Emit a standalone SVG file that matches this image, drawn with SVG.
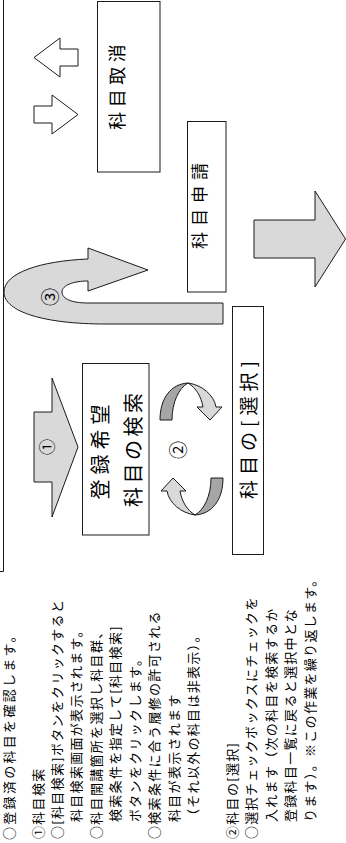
<svg xmlns="http://www.w3.org/2000/svg" xmlns:xlink="http://www.w3.org/1999/xlink" width="346" height="843" viewBox="0 0 346 843">
<style>
.t{font-family:"Noto Sans CJK JP","Noto Sans CJK SC",sans-serif;font-size:13px;letter-spacing:1.3px;fill:#000}
.lb{font-family:"Noto Sans CJK JP","Noto Sans CJK SC",sans-serif;fill:#000;text-anchor:middle}
.box{fill:#fff;stroke:#1a1a1a;stroke-width:1}
.arr{fill:#d9d9d9;stroke:#1a1a1a;stroke-width:1;stroke-linejoin:miter}
.warr{fill:#fff;stroke:#1a1a1a;stroke-width:1}
.dk{fill:#a6a6a6;stroke:#1a1a1a;stroke-width:1}
.ln{fill:none;stroke:#1a1a1a;stroke-width:1}
</style>
<defs>
<g id="curl">
<path class="dk" d="M160,420 L172,420 C172,402 179,388 188,383 C171,384 160,398 160,420 Z"/>
<path class="arr" d="M188,383 C202,385 214,395 216,407 L222,407 L210,420 L197,407 L203,407 C201,396 196,388 188,383 Z"/>
</g>
</defs>
<rect width="346" height="843" fill="#fff"/>
<g id="frame"><path class="ln" d="M-1,571.5 H3.5 V-1"/></g>
<g id="connectors">
<path id="arrow-cancel-left" class="warr" d="M34,57.5 L60,38 L60,49 L78,49 L78,66 L60,66 L60,77 Z"/>
<path id="arrow-cancel-right" class="warr" d="M78,114.5 L52,95 L52,106 L34,106 L34,123 L52,123 L52,134 Z"/>
<path id="arrow-apply" class="arr" d="M254,220 H315 V191 L345.5,239 L315,287 V258 H254 Z"/>
<path id="arrow-1" class="arr" d="M34,412 H52 V378 L78,447 L52,517 V482 H34 Z"/>
<path id="arrow-3" class="arr" d="M223,303 L223,324 L105,324 C45,324 4,312 4,292 C4,273 40,261 88,259 L88,248 L148,270 L88,291 L88,281 C74,281 62,285 62,292 C62,299 72,303 88,303 Z"/>
<use id="arrow-2a" xlink:href="#curl" href="#curl"/>
<use id="arrow-2b" xlink:href="#curl" href="#curl" transform="rotate(180 191.5 449)"/>
<text class="lb" style="font-size:16px" transform="translate(53,447) rotate(-90)">①</text>
<text class="lb" style="font-size:18px" transform="translate(184.8,450) rotate(-90)">②</text>
<text class="lb" style="font-size:18px" transform="translate(57,297) rotate(-90)">③</text>
</g>
<g id="node-cancel">
<rect class="box" x="97.5" y="1.5" width="62.5" height="170.5"/>
<text class="lb" style="font-size:18px;letter-spacing:4.5px" transform="translate(123.5,87) rotate(-90) translate(2.2,0)">科目取消</text>
</g>
<g id="node-apply">
<rect class="box" x="187.5" y="121.5" width="38.5" height="170.5"/>
<text class="lb" style="font-size:17px;letter-spacing:6px" transform="translate(206,206) rotate(-90) translate(3,0)">科目申請</text>
</g>
<g id="node-select">
<rect class="box" x="232.5" y="306.5" width="31" height="248"/>
<text class="lb" style="font-size:19px;letter-spacing:5px" transform="translate(256,430) rotate(-90) translate(2.5,0)">科目の[選択]</text>
</g>
<g id="node-search">
<rect class="box" x="82.5" y="363.5" width="66.5" height="171.5"/>
<text class="lb" style="font-size:20px;letter-spacing:5px" transform="translate(107.6,452) rotate(-90) translate(2.5,0)">登録希望</text>
<text class="lb" style="font-size:20px;letter-spacing:3.5px" transform="translate(140.6,450) rotate(-90) translate(1.7,0)">科目の検索</text>
</g>
<g id="notes">
<text class="t" style="letter-spacing:2.3px" transform="translate(13.5,840) rotate(-90)">○登録済の科目を確認します。</text>
<text class="t" transform="translate(42.5,839) rotate(-90)">①科目検索</text>
<text class="t" transform="translate(61.9,839) rotate(-90)">○[科目検索]ボタンをクリックすると</text>
<text class="t" transform="translate(81.4,822) rotate(-90)">科目検索画面が表示されます。</text>
<text class="t" transform="translate(100.8,839) rotate(-90)">○科目開講箇所を選択し科目群、</text>
<text class="t" transform="translate(120.3,822) rotate(-90)">検索条件を指定して[科目検索]</text>
<text class="t" transform="translate(139.7,822) rotate(-90)">ボタンをクリックします。</text>
<text class="t" transform="translate(159.2,839) rotate(-90)">○検索条件に合う履修の許可される</text>
<text class="t" transform="translate(178.6,822) rotate(-90)">科目が表示されます</text>
<text class="t" transform="translate(198.1,822) rotate(-90)">（それ以外の科目は非表示）。</text>
<text class="t" transform="translate(237,839) rotate(-90)">②科目の[選択]</text>
<text class="t" transform="translate(256.4,839) rotate(-90)">○選択チェックボックスにチェックを</text>
<text class="t" transform="translate(275.8,822) rotate(-90)">入れます（次の科目を検索するか</text>
<text class="t" transform="translate(295.2,822) rotate(-90)">登録科目一覧に戻ると選択中とな</text>
<text class="t" transform="translate(314.6,822) rotate(-90)">ります）。※この作業を繰り返します。</text>
</g>
</svg>
